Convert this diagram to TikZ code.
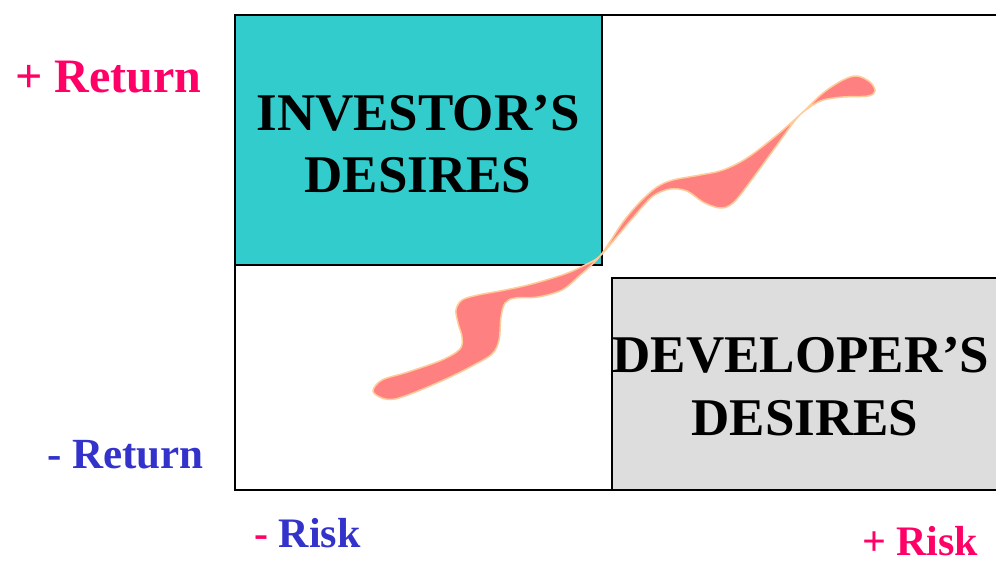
\documentclass[tikz,border=0pt]{standalone}
\usepackage{fontspec}
\setmainfont{Liberation Serif}
\definecolor{boxcyan}{HTML}{33CCCC}
\definecolor{boxgray}{HTML}{DDDDDD}
\definecolor{pinktext}{HTML}{FF0066}
\definecolor{bluetext}{HTML}{3333CC}
\definecolor{ribbonfill}{HTML}{FF8080}
\definecolor{ribbonline}{HTML}{FFCC99}
\begin{document}
\begin{tikzpicture}[x=1pt,y=-1pt,
  frame/.style={draw=black,line width=2pt},
  bigtext/.style={inner sep=0pt,anchor=base,font=\fontsize{53}{60}\selectfont\bfseries},
  axistext/.style={inner sep=0pt,anchor=base west,font=\fontsize{#1}{50}\selectfont\bfseries},
  axistext/.default=44]
\useasboundingbox (0,0) rectangle (996,563);
% outer frame
\draw[frame] (235,15) rectangle (1002,490);
% investor box
\filldraw[frame,fill=boxcyan] (235,15) rectangle (602,265);
% developer box
\filldraw[frame,fill=boxgray] (612,278) rectangle (1002,490);
% ribbon
\filldraw[fill=ribbonfill,draw=ribbonline,line width=1.5pt]
 plot[smooth cycle,tension=0.55] coordinates {
 (373,391) (382,380) (408,372) (442,360) (460,349) (462,337) (458,323) (456,310) (462,300) (478,295) (505,290) (532,284) (565,274) (585,265) (600,256)
 (620,233) (637,213) (653,196) (670,189) (687,191) (703,202) (720,208) (733,203) (750,182) (777,145) (797,118) (810,107) (823,100) (843,97) (868,96)
 (875,91) (870,82) (857,76) (843,80)
 (823,93) (803,112) (777,135) (747,158) (723,170) (700,175) (673,180) (657,187) (640,202) (623,222) (600,256)
 (578,277) (562,290) (538,297) (515,298) (505,303) (501,317) (499,340) (492,354) (472,366) (448,378) (418,391) (395,399) (382,398)};
% box texts
\node[bigtext] (inv1) at (418,130) {INVESTOR’S};
\node[bigtext] (inv2) at (418,192) {DESIRES};
\node[bigtext] (dev1) at (801,372) {DEVELOPER’S};
\node[bigtext] (dev2) at (805,435) {DESIRES};
% axis labels
\node[axistext=48,text=pinktext] (pret) at (15,92) {+ Return};
\node[axistext=43,text=bluetext] (mret) at (47,468) {- Return};
\node[axistext=42,text=bluetext] (mrisk) at (254,547) {\textcolor{pinktext}{-} Risk};
\node[axistext=42,text=pinktext,text depth=0pt] (prisk) at (862,555) {+ Risk};
\end{tikzpicture}
\end{document}
